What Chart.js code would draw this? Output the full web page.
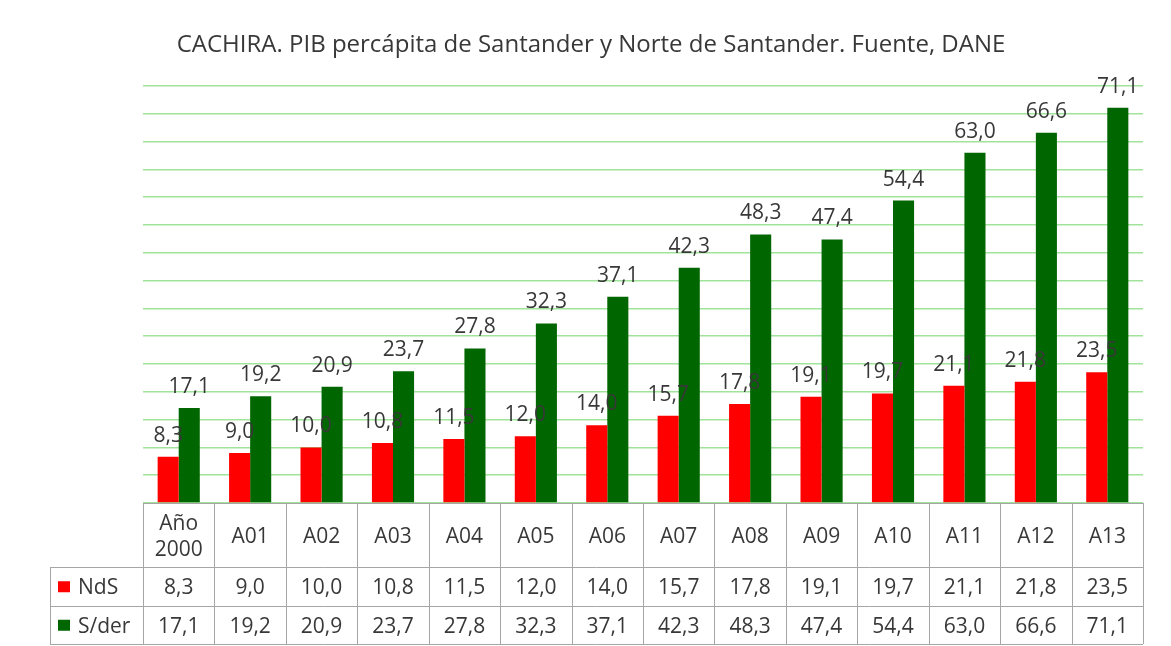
<!DOCTYPE html>
<html>
<head>
<meta charset="utf-8">
<script src="https://cdn.jsdelivr.net/npm/chart.js@4"></script>
<style>
  html, body { margin: 0; padding: 0; background: #fff; }
  #wrap { width: 1171px; height: 646px; position: relative; }
</style>
</head>
<body>
<div id="wrap"><canvas id="pibChart"></canvas></div>
<script>
const chartTitle = 'CACHIRA. PIB percápita de Santander y Norte de Santander. Fuente, DANE';
const categories = [['Año', '2000'], 'A01', 'A02', 'A03', 'A04', 'A05', 'A06', 'A07', 'A08', 'A09', 'A10', 'A11', 'A12', 'A13'];
const seriesNames = ['NdS', 'S/der'];
const ndsValues = [8.3, 9.0, 10.0, 10.8, 11.5, 12.0, 14.0, 15.7, 17.8, 19.1, 19.7, 21.1, 21.8, 23.5];
const sderValues = [17.1, 19.2, 20.9, 23.7, 27.8, 32.3, 37.1, 42.3, 48.3, 47.4, 54.4, 63.0, 66.6, 71.1];
const yMax = 75;
const yStep = 5;

const FONT = '"Open Sans", "DejaVu Sans", sans-serif';
const TEXT_COLOR = '#383838';
const BORDER_COLOR = '#a6a6a6';
const seriesColors = ['#ff0000', '#006600'];

function fmt(v) {
    return v.toFixed(1).replace('.', ',');
}

// Draws the title, the value labels above the bars and the data table below the plot
const tablePlugin = {
    id: 'dataTable',
    afterDatasetsDraw(chart) {
        const ctx = chart.ctx;
        ctx.save();
        ctx.font = '21px ' + FONT;
        ctx.fillStyle = TEXT_COLOR;
        ctx.textAlign = 'center';
        ctx.textBaseline = 'alphabetic';
        chart.data.datasets.forEach((ds, di) => {
            const meta = chart.getDatasetMeta(di);
            meta.data.forEach((bar, i) => {
                ctx.fillText(fmt(ds.data[i]), bar.x, bar.y - 15);
            });
        });
        ctx.restore();
    },
    afterDraw(chart) {
        const ctx = chart.ctx;
        const area = chart.chartArea;
        const xScale = chart.scales.x;
        const n = categories.length;
        const colW = (area.right - area.left) / n;
        const headTop = area.bottom;
        const headBottom = headTop + 64;
        const rowH = 38.5;
        const legendLeft = 50;
        const tableBottom = headBottom + rowH * seriesNames.length;

        ctx.save();
        // title
        ctx.font = '24px ' + FONT;
        ctx.fillStyle = TEXT_COLOR;
        ctx.textAlign = 'center';
        ctx.textBaseline = 'middle';
        ctx.fillText(chartTitle, 591, 45);

        // table borders
        ctx.strokeStyle = BORDER_COLOR;
        ctx.lineWidth = 1;
        ctx.beginPath();
        ctx.moveTo(area.left, headTop + 0.5);
        ctx.lineTo(area.right, headTop + 0.5);
        for (let r = 0; r <= seriesNames.length; r++) {
            const y = Math.round(headBottom + r * rowH) + 0.5;
            ctx.moveTo(legendLeft, y);
            ctx.lineTo(area.right, y);
        }
        for (let c = 0; c <= n; c++) {
            const x = Math.round(area.left + c * colW) + 0.5;
            ctx.moveTo(x, headTop);
            ctx.lineTo(x, tableBottom);
        }
        ctx.moveTo(legendLeft + 0.5, headBottom);
        ctx.lineTo(legendLeft + 0.5, tableBottom);
        ctx.stroke();

        // category labels
        ctx.font = '21px ' + FONT;
        ctx.fillStyle = TEXT_COLOR;
        const headMid = (headTop + headBottom) / 2 + 2;
        categories.forEach((cat, i) => {
            const x = xScale.getPixelForValue(i);
            if (Array.isArray(cat)) {
                ctx.fillText(cat[0], x, headMid - 13);
                ctx.fillText(cat[1], x, headMid + 13);
            } else {
                ctx.fillText(cat, x, headMid);
            }
        });

        // series rows
        ctx.font = '21px ' + FONT;
        chart.data.datasets.forEach((ds, di) => {
            const yMid = headBottom + rowH * di + rowH / 2 + 2;
            ctx.fillStyle = ds.backgroundColor;
            ctx.fillRect(legendLeft + 8, yMid - 7, 12, 11);
            ctx.fillStyle = TEXT_COLOR;
            ctx.textAlign = 'left';
            ctx.fillText(ds.label, legendLeft + 28, yMid);
            ctx.textAlign = 'center';
            ds.data.forEach((v, i) => {
                ctx.fillText(fmt(v), xScale.getPixelForValue(i), yMid);
            });
        });
        ctx.restore();
    }
};

new Chart(document.getElementById('pibChart'), {
    type: 'bar',
    data: {
        labels: categories,
        datasets: [
            { label: seriesNames[0], data: ndsValues, backgroundColor: seriesColors[0] },
            { label: seriesNames[1], data: sderValues, backgroundColor: seriesColors[1] }
        ]
    },
    options: {
        responsive: true,
        maintainAspectRatio: false,
        animation: false,
        layout: { padding: { left: 143, right: 28, top: 86, bottom: 143 } },
        datasets: { bar: { categoryPercentage: 0.59, barPercentage: 1.0 } },
        plugins: {
            legend: { display: false },
            title: { display: false },
            tooltip: { enabled: false }
        },
        scales: {
            x: { display: false },
            y: {
                min: 0,
                max: yMax,
                ticks: { display: false, stepSize: yStep },
                border: { display: false },
                grid: { color: '#a0e39a', lineWidth: 1.5, drawTicks: false }
            }
        }
    },
    plugins: [tablePlugin]
});
</script>
</body>
</html>
